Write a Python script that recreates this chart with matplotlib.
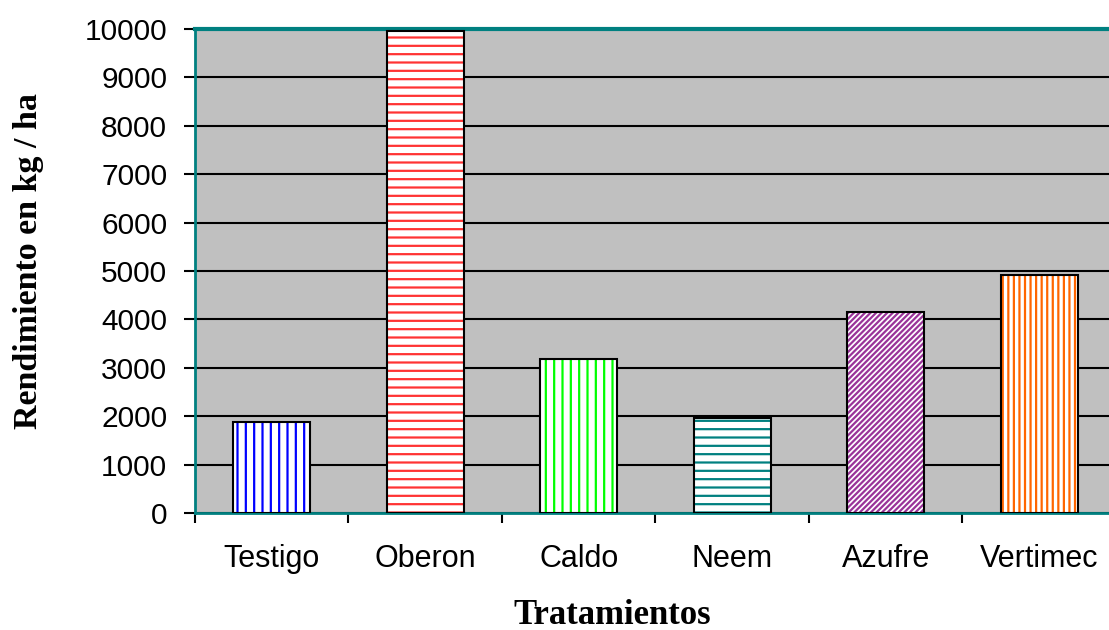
import matplotlib.pyplot as plt
import numpy as np

tratamientos = ['Testigo', 'Oberon', 'Caldo', 'Neem', 'Azufre', 'Vertimec']
rendimiento = [1880, 9960, 3180, 1960, 4150, 4920]
colores = ['#0000FF', '#FF3333', '#00FF00', '#008080', '#993399', '#FF6600']
tramas = ['||', '--', '||', '--', '//////', '|||']

plt.rcParams['hatch.linewidth'] = 1.6

fig = plt.figure(figsize=(11.09, 6.3), dpi=100)
ax = fig.add_axes([0.1758, 0.1857, 0.8305, 0.7683])
ax.set_facecolor('#C0C0C0')

x = np.arange(len(tratamientos))
# hatch colour follows edgecolor, so draw hatched fill first, black outline on top
for xi, val, c, h in zip(x, rendimiento, colores, tramas):
    ax.bar(xi, val, width=0.5, color='white', edgecolor=c, hatch=h, linewidth=0, zorder=3)
ax.bar(x, rendimiento, width=0.5, fill=False, edgecolor='black', linewidth=1.5, zorder=4)

ax.set_xlim(-0.5, len(tratamientos) - 0.5)
ax.set_ylim(0, 10000)
ax.set_yticks(np.arange(0, 10001, 1000))
ax.yaxis.grid(True, color='black', linewidth=1.5, zorder=1)
ax.set_axisbelow(True)

ax.set_xticks(x)
ax.set_xticklabels(tratamientos, fontsize=22, family='Liberation Sans')
ax.set_xticks(np.arange(-0.5, len(tratamientos)), minor=True)
ax.tick_params(axis='x', which='major', length=0, pad=22)
ax.tick_params(axis='x', which='minor', length=7, width=1.5, direction='out')
ax.tick_params(axis='y', length=8, width=1.5, direction='out', pad=12)
for lbl in ax.get_yticklabels():
    lbl.set_fontsize(21.5)
    lbl.set_family('Liberation Sans')

for side in ['left', 'bottom']:
    ax.spines[side].set_color('#008080')
    ax.spines[side].set_linewidth(2)
ax.spines['top'].set_color('#008080')
ax.spines['top'].set_linewidth(3)
ax.spines['right'].set_visible(False)

ax.set_xlabel('Tratamientos', fontsize=25, fontweight='bold', family='Liberation Serif', va='center')
ax.xaxis.set_label_coords(0.453, -0.211)
ax.set_ylabel('Rendimiento en kg / ha', fontsize=24.5, fontweight='bold', family='Liberation Serif', va='center')
ax.yaxis.set_label_coords(-0.181, 0.52)

fig.savefig('out.png', dpi=100)
